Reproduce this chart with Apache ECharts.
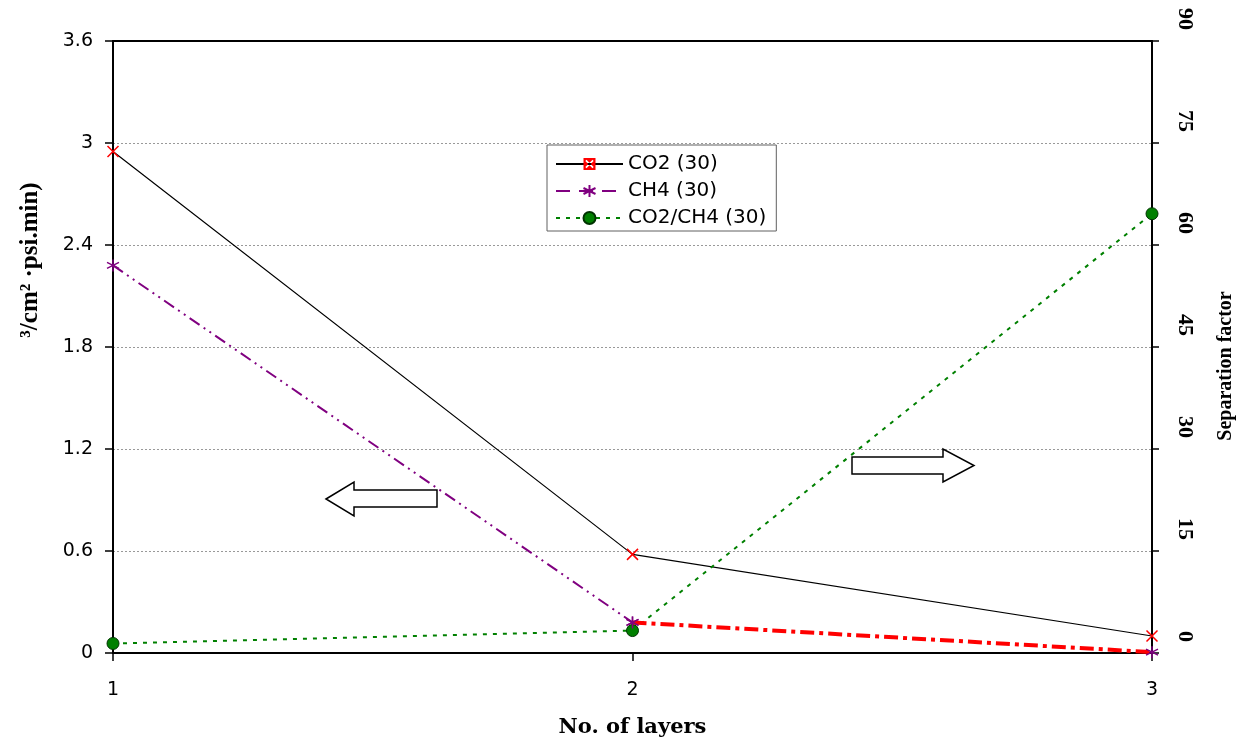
<!DOCTYPE html>
<html>
<head>
<meta charset="utf-8">
<script src="https://cdn.jsdelivr.net/npm/echarts@6/dist/echarts.min.js"></script>
<style>html,body{margin:0;padding:0;background:#fff}#c{width:1246px;height:743px}</style>
</head>
<body>
<div id="c"></div>
<script>
// ---- data ----
const xValues = [1, 2, 3];                 // No. of layers
const co2 = [2.95, 0.58, 0.10];            // left axis
const ch4 = [2.28, 0.18, 0.005];           // left axis
const sepFactor = [1.4, 3.3, 64.6];        // right axis
const seriesNames = ['CO2 (30)', 'CH4 (30)', 'CO2/CH4 (30)'];
const leftAxisTicks = {min: 0, max: 3.6, interval: 0.6};
const rightAxisTicks = {min: 0, max: 90, interval: 15};
const xAxisTicks = {min: 1, max: 3, interval: 1};
const xTitle = 'No. of layers';
const leftTitle = '\u00B3/cm\u00B2 \u00B7psi.min)';
const rightTitle = 'Separation factor';

// ---- helpers ----
const pairs = (ys, keep) => xValues.map((x, i) => [x, keep(i) ? ys[i] : null]);
const symX = 'path://M0,0L10,10M10,0L0,10';
const symStar = 'path://M5,0L5,10M0.7,2.5L9.3,7.5M9.3,2.5L0.7,7.5';
const symBoxX = 'path://M0,0L10,0L10,10L0,10Z M4,5L1.5,7.5L2.5,8.5L5,6L7.5,8.5L8.5,7.5L6,5L8.5,2.5L7.5,1.5L5,4L2.5,1.5L1.5,2.5Z';
const sansFont = 'DejaVu Sans';
const serifFont = 'Liberation Serif';

const chart = echarts.init(document.getElementById('c'), null, {renderer: 'canvas'});
const axisLineStyle = {color: '#000', width: 2};

chart.setOption({
  animation: false,
  backgroundColor: '#fff',
  grid: {left: 113, right: 94, top: 41, bottom: 90, outerBoundsMode: 'none'},
  legend: {
    data: seriesNames,
    orient: 'vertical',
    left: 547, top: 145,
    itemWidth: 67, itemHeight: 15, itemGap: 7,
    padding: [9, 10, 3, 8],
    borderColor: '#606060', borderWidth: 1, backgroundColor: '#fff',
    textStyle: {fontFamily: sansFont, fontSize: 20, color: '#000'},
    selectedMode: false
  },
  xAxis: [{
    type: 'value', min: xAxisTicks.min, max: xAxisTicks.max, interval: xAxisTicks.interval,
    axisLine: {show: true, onZero: false, lineStyle: axisLineStyle},
    axisTick: {show: true, inside: false, length: 8, lineStyle: {color: '#000', width: 1.5}},
    splitLine: {show: false},
    axisLabel: {fontFamily: sansFont, fontSize: 19, color: '#000', margin: 28},
    name: xTitle, nameLocation: 'middle', nameGap: 64, nameMoveOverlap: false,
    nameTextStyle: {fontFamily: 'DejaVu Serif', fontWeight: 'bold', fontSize: 21, color: '#000'}
  }, {
    type: 'value', position: 'top', min: xAxisTicks.min, max: xAxisTicks.max,
    axisLine: {show: true, onZero: false, lineStyle: axisLineStyle},
    axisTick: {show: false}, axisLabel: {show: false}, splitLine: {show: false}
  }],
  yAxis: [{
    type: 'value', position: 'left',
    min: leftAxisTicks.min, max: leftAxisTicks.max, interval: leftAxisTicks.interval,
    axisLine: {show: true, onZero: false, lineStyle: axisLineStyle},
    axisTick: {show: true, inside: false, length: 8, lineStyle: {color: '#000', width: 1.5}},
    splitLine: {show: true, lineStyle: {color: '#999', width: 1, type: [2, 2]}},
    axisLabel: {fontFamily: sansFont, fontSize: 19, color: '#000', margin: 20},
    name: leftTitle, nameLocation: 'middle', nameRotate: 90, nameGap: 70, nameMoveOverlap: false,
    nameTextStyle: {fontFamily: serifFont, fontWeight: 'bold', fontSize: 25, color: '#000', padding: [0, 0, 0, 174]}
  }, {
    type: 'value', position: 'right',
    min: rightAxisTicks.min, max: rightAxisTicks.max, interval: rightAxisTicks.interval,
    axisLine: {show: true, onZero: false, lineStyle: axisLineStyle},
    axisTick: {show: true, inside: false, length: 7, lineStyle: {color: '#000', width: 1.5}},
    splitLine: {show: false},
    axisLabel: {fontFamily: serifFont, fontWeight: 'bold', fontSize: 22, color: '#000', margin: 22,
      rotate: -90, align: 'right', padding: [0, 11, 0, 0]},
    name: rightTitle, nameLocation: 'middle', nameRotate: 90, nameGap: 64, nameMoveOverlap: false,
    nameTextStyle: {fontFamily: serifFont, fontWeight: 'bold', fontSize: 20, color: '#000', padding: [0, 38, 0, 0]}
  }],
  series: [
    // legend appearance for CO2 (first series of that name is used by the legend)
    {name: seriesNames[0], type: 'line', data: [], symbol: symBoxX, symbolSize: 13,
      lineStyle: {color: '#000', width: 1}, itemStyle: {color: '#ff0000'}},
    {name: seriesNames[0], type: 'line', data: pairs(co2, () => true),
      symbol: symX, symbolSize: 11, z: 3,
      lineStyle: {color: '#000', width: 1.2},
      itemStyle: {color: '#ff0000', borderColor: '#ff0000', borderWidth: 1.5}},
    // legend appearance for CH4
    {name: seriesNames[1], type: 'line', data: [], symbol: symStar, symbolSize: 12,
      lineStyle: {color: '#800080', width: 2, type: [14, 9]},
      itemStyle: {color: '#800080', borderColor: '#800080', borderWidth: 1.5}},
    {name: seriesNames[1], type: 'line', data: pairs(ch4, i => i <= 1),
      symbol: symStar, symbolSize: 12, z: 3,
      lineStyle: {color: '#800080', width: 2, type: [12, 5, 2, 5, 2, 5]},
      itemStyle: {color: '#800080', borderColor: '#800080', borderWidth: 1.5}},
    {name: seriesNames[1], type: 'line', data: pairs(ch4, i => i >= 1),
      symbol: symStar, symbolSize: 12, z: 4,
      lineStyle: {color: '#ff0000', width: 4, type: [14, 5, 4, 5]},
      itemStyle: {color: '#800080', borderColor: '#800080', borderWidth: 1.5}},
    {name: seriesNames[2], type: 'line', yAxisIndex: 1, data: pairs(sepFactor, () => true),
      symbol: 'circle', symbolSize: 12, z: 3,
      lineStyle: {color: '#008000', width: 2, type: [4, 6]},
      itemStyle: {color: '#008000', borderColor: '#003300', borderWidth: 1}}
  ],
  graphic: [
    {type: 'polygon', z: 100,
      shape: {points: [[326, 499], [354, 482], [354, 490], [437, 490], [437, 507], [354, 507], [354, 516]]},
      style: {fill: '#fff', stroke: '#000', lineWidth: 1.5}},
    {type: 'polygon', z: 100,
      shape: {points: [[852, 457], [943, 457], [943, 449], [974, 465.5], [943, 482], [943, 474], [852, 474]]},
      style: {fill: '#fff', stroke: '#000', lineWidth: 1.5}}
  ]
});
</script>
</body>
</html>
